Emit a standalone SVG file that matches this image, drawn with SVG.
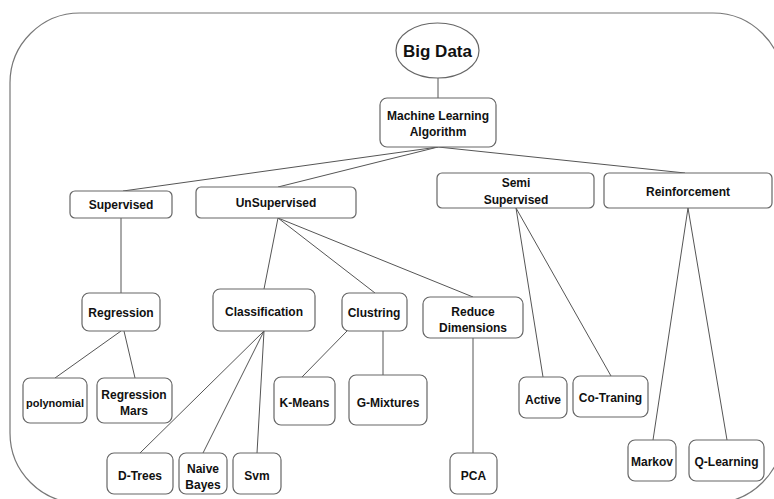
<svg xmlns="http://www.w3.org/2000/svg" width="774" height="499" viewBox="0 0 774 499">
<style>
.n{fill:#fff;stroke:#666;stroke-width:1.2}
.t{font-family:"Liberation Sans",Arial,sans-serif;font-weight:bold;font-size:12px;fill:#111;text-anchor:middle;dominant-baseline:central}
.c line{stroke:#555;stroke-width:1}
</style>
<rect width="774" height="499" fill="#fff"/>
<rect id="frame" x="10" y="13" width="773" height="490" rx="70" ry="70" fill="none" stroke="#777" stroke-width="1.2"/>
<g class="c" id="connectors">
<line x1="438" y1="78" x2="438" y2="98"/>
<line x1="438" y1="147" x2="123" y2="191"/>
<line x1="438" y1="147" x2="278" y2="187"/>
<line x1="438" y1="147" x2="685" y2="173"/>
<line x1="121" y1="218" x2="121" y2="293"/>
<line x1="121" y1="331" x2="55" y2="378"/>
<line x1="124" y1="331" x2="135" y2="378"/>
<line x1="278" y1="218" x2="264" y2="289"/>
<line x1="278" y1="218" x2="375" y2="293"/>
<line x1="278" y1="218" x2="473" y2="297"/>
<line x1="264" y1="331" x2="140" y2="453"/>
<line x1="264" y1="331" x2="203" y2="453"/>
<line x1="264" y1="331" x2="257" y2="453"/>
<line x1="347" y1="331" x2="302" y2="377"/>
<line x1="383" y1="331" x2="383" y2="375"/>
<line x1="473" y1="338" x2="473" y2="453"/>
<line x1="516" y1="208" x2="543" y2="377"/>
<line x1="516" y1="208" x2="611" y2="376"/>
<line x1="688" y1="208" x2="653" y2="440"/>
<line x1="688" y1="208" x2="727" y2="440"/>
</g>
<g id="bigdata"><ellipse class="n" cx="437.5" cy="50.5" rx="41.5" ry="27.5"/><text class="t" x="437.5" y="51" style="font-size:17px">Big Data</text></g>
<g id="ml"><rect class="n" x="380" y="98" width="116" height="49" rx="7"/><text class="t" x="438" y="116">Machine Learning</text><text class="t" x="438" y="132">Algorithm</text></g>
<g id="supervised"><rect class="n" x="70" y="191" width="102" height="27" rx="5"/><text class="t" x="121" y="205">Supervised</text></g>
<g id="unsupervised"><rect class="n" x="196" y="187" width="160" height="31" rx="5"/><text class="t" x="276" y="203">UnSupervised</text></g>
<g id="semi"><rect class="n" x="437" y="173" width="157" height="35" rx="5"/><text class="t" x="516" y="183">Semi</text><text class="t" x="516" y="200">Supervised</text></g>
<g id="reinforcement"><rect class="n" x="604" y="173" width="168" height="35" rx="5"/><text class="t" x="688" y="192">Reinforcement</text></g>
<g id="regression"><rect class="n" x="82" y="293" width="78" height="38" rx="7"/><text class="t" x="121" y="313">Regression</text></g>
<g id="polynomial"><rect class="n" x="23" y="378" width="64" height="45" rx="7"/><text class="t" x="55" y="403" style="font-size:11px">polynomial</text></g>
<g id="regmars"><rect class="n" x="97" y="378" width="75" height="45" rx="7"/><text class="t" x="134" y="395">Regression</text><text class="t" x="134" y="411">Mars</text></g>
<g id="classification"><rect class="n" x="213" y="289" width="102" height="42" rx="7"/><text class="t" x="264" y="312">Classification</text></g>
<g id="clustring"><rect class="n" x="342" y="293" width="65" height="38" rx="7"/><text class="t" x="374" y="313">Clustring</text></g>
<g id="reduce"><rect class="n" x="423" y="297" width="100" height="41" rx="7"/><text class="t" x="473" y="312">Reduce</text><text class="t" x="473" y="328">Dimensions</text></g>
<g id="dtrees"><rect class="n" x="107" y="453" width="66" height="41" rx="7"/><text class="t" x="140" y="476">D-Trees</text></g>
<g id="naive"><rect class="n" x="179" y="453" width="48" height="41" rx="7"/><text class="t" x="203" y="469">Naive</text><text class="t" x="203" y="485">Bayes</text></g>
<g id="svm"><rect class="n" x="233" y="453" width="48" height="41" rx="7"/><text class="t" x="257" y="476">Svm</text></g>
<g id="kmeans"><rect class="n" x="274" y="377" width="61" height="48" rx="7"/><text class="t" x="304.5" y="403">K-Means</text></g>
<g id="gmix"><rect class="n" x="349" y="375" width="78" height="50" rx="7"/><text class="t" x="388" y="403">G-Mixtures</text></g>
<g id="pca"><rect class="n" x="450" y="453" width="47" height="41" rx="7"/><text class="t" x="473.5" y="476">PCA</text></g>
<g id="active"><rect class="n" x="519" y="377" width="48" height="41" rx="7"/><text class="t" x="543" y="400">Active</text></g>
<g id="cotraning"><rect class="n" x="573" y="376" width="75" height="41" rx="7"/><text class="t" x="610.5" y="398">Co-Traning</text></g>
<g id="markov"><rect class="n" x="628" y="440" width="48" height="41" rx="7"/><text class="t" x="652" y="462">Markov</text></g>
<g id="qlearning"><rect class="n" x="689" y="440" width="75" height="41" rx="7"/><text class="t" x="726.5" y="462">Q-Learning</text></g>
</svg>
